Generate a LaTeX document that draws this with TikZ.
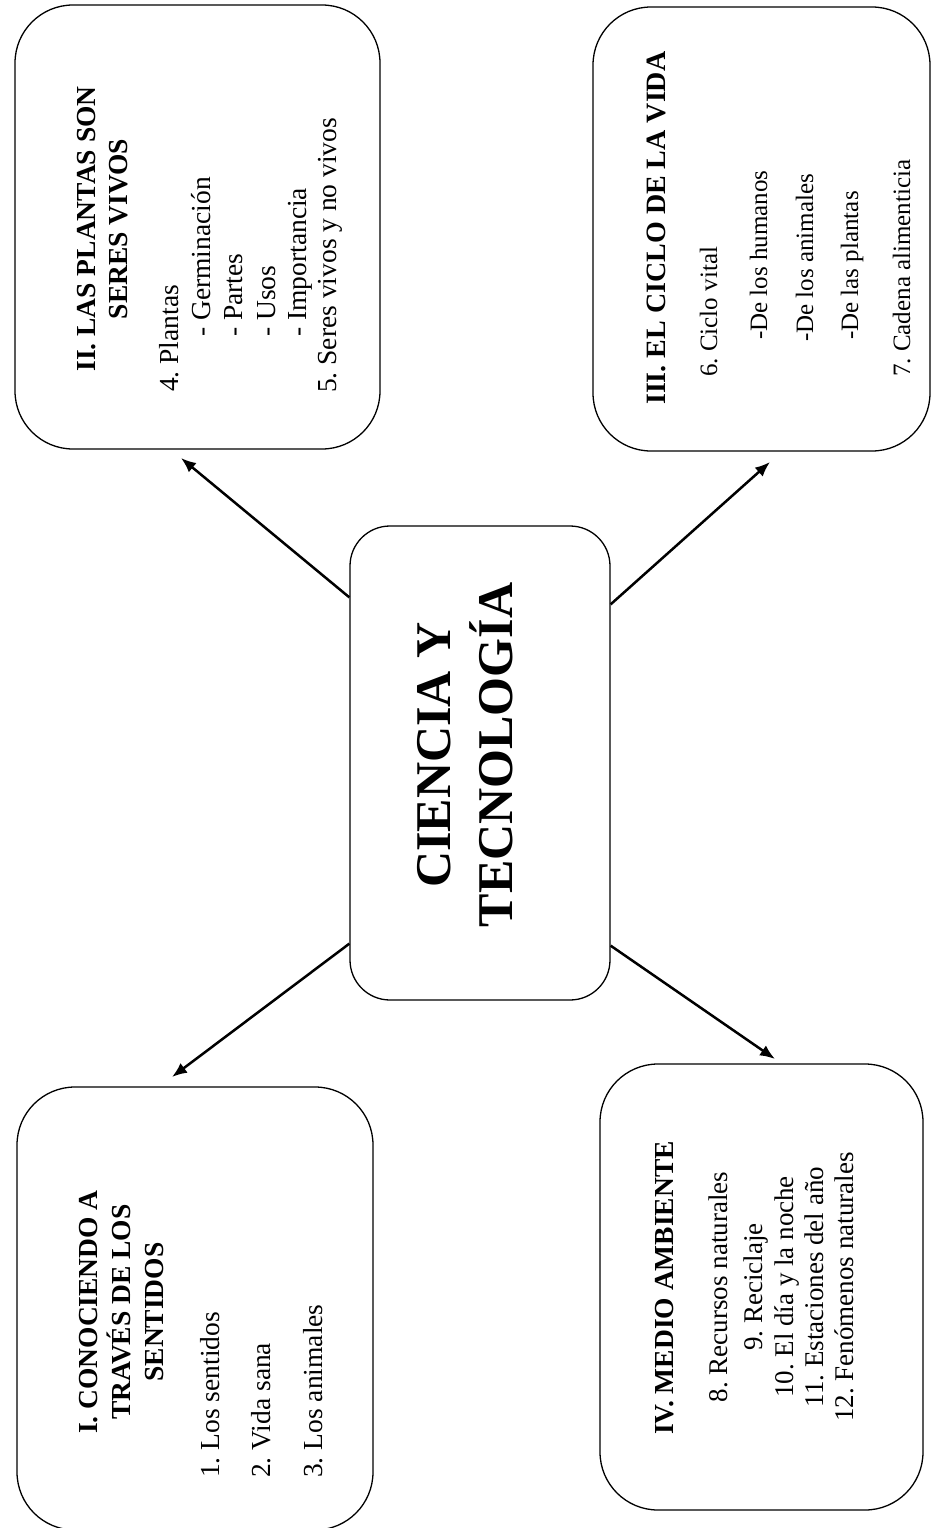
\documentclass[tikz,border=0pt]{standalone}
\usepackage{fontspec}
\setmainfont{Liberation Serif}
\usetikzlibrary{arrows.meta,calc}
\frenchspacing
\tikzset{
  box/.style={draw, line width=1.3pt, rounded corners=58pt, inner sep=0pt},
  cbox/.style={draw, line width=1.3pt, rounded corners=40pt, inner sep=0pt},
  arr/.style={line width=2.5pt, -{Latex[length=15pt,width=12pt]}},
  hd/.style={rotate=90, inner sep=0pt, anchor=base, font=\fontsize{27.5}{30}\selectfont\bfseries\frenchspacing},
  hdl/.style={rotate=90, inner sep=0pt, anchor=base west, font=\fontsize{28}{30}\selectfont\bfseries\frenchspacing},
  bd/.style={rotate=90, inner sep=0pt, anchor=base west, font=\fontsize{27.5}{30}\selectfont\frenchspacing},
  bdc/.style={rotate=90, inner sep=0pt, anchor=base, font=\fontsize{27}{30}\selectfont\frenchspacing},
  bds/.style={rotate=90, inner sep=0pt, anchor=base west, font=\fontsize{25}{30}\selectfont\frenchspacing},
  ttl/.style={rotate=90, inner sep=0pt, anchor=base, font=\fontsize{50}{56}\selectfont\bfseries\frenchspacing}
}
\begin{document}
\begin{tikzpicture}[x=1pt,y=-1pt]
\useasboundingbox (0,0) rectangle (931,1528);

% boxes
\node[cbox, minimum width=260pt, minimum height=474pt] (c) at (480,763) {};
\node[box, minimum width=356pt, minimum height=443pt] (b1) at (195,1308.5) {};
\node[box, minimum width=365pt, minimum height=444pt] (b2) at (197.5,227) {};
\node[box, minimum width=337pt, minimum height=444pt] (b3) at (761.5,229) {};
\node[box, minimum width=323pt, minimum height=446pt] (b4) at (761.5,1287) {};

% title
\node[ttl] (t1) at (450,755) {CIENCIA Y};
\node[ttl] (t2) at (512,755) {TECNOLOGÍA};

% box I
\node[hd] (h1a) at (97,1312) {I. CONOCIENDO A};
\node[hd] (h1b) at (130,1312) {TRAVÉS DE LOS};
\node[hd] (h1c) at (163,1312) {SENTIDOS};
\node[bd] (i1) at (219,1478) {1. Los sentidos};
\node[bd] (i2) at (270,1478) {2. Vida sana};
\node[bd] (i3) at (322,1478) {3. Los animales};

% box II
\node[hd] (h2a) at (95,229) {II. LAS PLANTAS SON};
\node[hd] (h2b) at (127,229) {SERES VIVOS};
\node[bd] (p4) at (178,392) {4. Plantas};
\node[bd] (p4a) at (210,337) {- Germinación};
\node[bd] (p4b) at (242,337) {- Partes};
\node[bd] (p4c) at (275,337) {- Usos};
\node[bd] (p4d) at (306,337) {- Importancia};
\node[bd] (p5) at (336,393) {5. Seres vivos y no vivos};

% box III
\node[hdl] (h3) at (665,405) {III. EL CICLO DE LA VIDA};
\node[bds] (v6) at (717,377) {6. Ciclo vital};
\node[bds] (v6a) at (767,340) {-De los humanos};
\node[bds] (v6b) at (813,342) {-De los animales};
\node[bds] (v6c) at (858,340) {-De las plantas};
\node[bds] (v7) at (910,377) {7. Cadena alimenticia};

% box IV
\node[hd] (h4) at (673,1288) {IV. MEDIO AMBIENTE};
\node[bdc] (m8) at (727,1287) {8. Recursos naturales};
\node[bdc] (m9) at (762,1287) {9. Reciclaje};
\node[bdc] (m10) at (793,1287) {10. El día y la noche};
\node[bdc] (m11) at (823,1287) {11. Estaciones del año};
\node[bdc] (m12) at (853,1287) {12. Fenómenos naturales};

% arrow tips
\coordinate (e2) at (181,458);
\coordinate (e3) at (770,462);
\coordinate (e1) at (172,1077);
\coordinate (e4) at (775,1059);

\draw[arr] ([yshift=-72pt]c.north west) -- (e2);
\draw[arr] ([yshift=-79pt]c.north east) -- (e3);
\draw[arr] ([yshift=57pt]c.south west) -- (e1);
\draw[arr] ([yshift=55pt]c.south east) -- (e4);
\end{tikzpicture}
\end{document}
